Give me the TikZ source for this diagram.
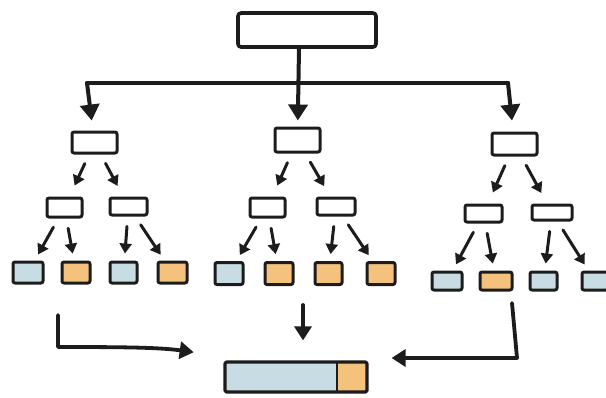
\documentclass[tikz,border=0pt]{standalone}
\usetikzlibrary{arrows.meta}

\definecolor{ink}{HTML}{1C1C1C}
\definecolor{leafblue}{HTML}{C8DCE3}
\definecolor{leaforange}{HTML}{F5C27E}

\tikzset{
  box/.style={draw=ink, line width=3pt, rounded corners=2pt, inner sep=0pt,
              fill=white, line join=round},
  leafB/.style={box, fill=leafblue},
  leafO/.style={box, fill=leaforange},
  link/.style={draw=ink, line width=3pt, line cap=round,
               -{Triangle[width=12pt,length=10pt]}},
  trunk/.style={draw=ink, line width=4pt, line cap=round, line join=round},
  drop/.style={trunk, -{Triangle[width=19pt,length=16pt]}},
  sink/.style={trunk, line width=3.8pt, -{Triangle[width=17pt,length=14pt]}},
}

\begin{document}
\begin{tikzpicture}[x=1pt, y=-1pt]
  \useasboundingbox (0,0) rectangle (606,397);

  % root
  \node[box, line width=3.6pt, rounded corners=3pt,
        minimum width=138pt, minimum height=34pt] (root) at (307,30) {};

  % first level
  \node[box, minimum width=45pt, minimum height=21pt] (a) at (94.5,142.5) {};
  \node[box, minimum width=45pt, minimum height=24pt] (b) at (297.5,140) {};
  \node[box, minimum width=45pt, minimum height=22pt] (c) at (514.5,144) {};

  % second level
  \node[box, minimum width=35pt, minimum height=19pt] (a1) at (64.5,207.5) {};
  \node[box, minimum width=37pt, minimum height=17pt] (a2) at (128.5,206.5) {};
  \node[box, minimum width=35pt, minimum height=19pt] (b1) at (267.5,207.5) {};
  \node[box, minimum width=38pt, minimum height=17pt] (b2) at (336,206.5) {};
  \node[box, minimum width=37pt, minimum height=17pt] (c1) at (483.5,213.5) {};
  \node[box, minimum width=40pt, minimum height=15pt] (c2) at (552,212.5) {};

  % leaves
  \node[leafB, minimum width=30pt, minimum height=21pt] (a11) at (28,272.5) {};
  \node[leafO, minimum width=28pt, minimum height=21pt] (a12) at (76,272.5) {};
  \node[leafB, minimum width=27pt, minimum height=21pt] (a21) at (123.5,272.5) {};
  \node[leafO, minimum width=29pt, minimum height=21pt] (a22) at (172.5,272.5) {};

  \node[leafB, minimum width=28pt, minimum height=22pt] (b11) at (229,273.5) {};
  \node[leafO, minimum width=28pt, minimum height=22pt] (b12) at (279,273.5) {};
  \node[leafO, minimum width=27pt, minimum height=22pt] (b21) at (328.5,273.5) {};
  \node[leafO, minimum width=28pt, minimum height=22pt] (b22) at (381,273.5) {};

  \node[leafB, minimum width=30pt, minimum height=18pt] (c11) at (447,281) {};
  \node[leafO, minimum width=32pt, minimum height=18pt] (c12) at (496,281) {};
  \node[leafB, minimum width=27pt, minimum height=18pt] (c21) at (543.5,281) {};
  \node[leafB, minimum width=26pt, minimum height=18pt] (c22) at (595,281) {};

  % result bar
  \node[box, fill=leafblue, line width=3.2pt, rounded corners=1.5pt,
        minimum width=142pt, minimum height=30pt,
        path picture={
          \fill[leaforange] ([xshift=-30pt]path picture bounding box.north east)
                 rectangle (path picture bounding box.south east);
          \draw[ink, line width=2.8pt]
                 ([xshift=-30pt]path picture bounding box.north east)
              -- ([xshift=-30pt]path picture bounding box.south east);
        }] (bar) at (296,377) {};

  % distribution from the root
  \coordinate (hubL) at (87,83);
  \coordinate (hubM) at (299,83);
  \coordinate (hubR) at (508,83);
  \draw[trunk] (hubL) -- (hubR);
  \draw[drop, shorten >=10pt] (hubL) -- (a);
  \draw[drop, shorten >=6pt] (root.south -| hubM) -- (b);
  \draw[drop, shorten >=11pt] (hubR) -- (c);

  % first to second level
  \foreach \p/\q in {a/a1, a/a2, b/b1, b/b2, c/c1, c/c2}
    \draw[link, shorten <=10pt, shorten >=12pt] (\p) -- (\q);

  % second level to leaves
  \foreach \p/\q in {a1/a11, a1/a12, a2/a21, a2/a22,
                     b1/b11, b1/b12, b2/b21, b2/b22,
                     c1/c11, c1/c12, c2/c21, c2/c22}
    \draw[link, shorten <=10pt, shorten >=7pt] (\p) -- (\q);

  % gathering into the result bar
  \coordinate (lsrc) at (58,315);
  \coordinate (lbend) at (58,347);
  \coordinate (msrc) at (303,305);
  \coordinate (rsrc) at (512,303);
  \coordinate (rbend) at (517,358);

  \draw[sink, shorten >=30pt] (lsrc) -- (lbend)
        to[out=0, in=172] ([yshift=4pt]bar.north west);
  \draw[sink, shorten >=20pt] (msrc) -- (msrc |- bar.north);
  \draw[sink, shorten >=23pt] (rsrc) -- (rbend) -- (bar.north east |- rbend);
\end{tikzpicture}
\end{document}
